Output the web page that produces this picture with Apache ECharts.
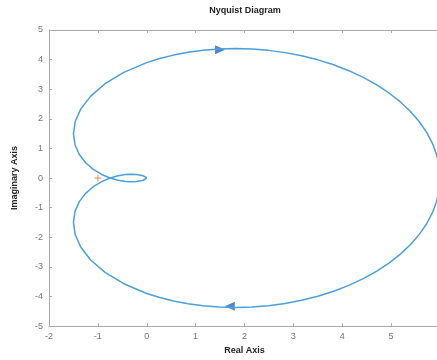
<!DOCTYPE html>
<html>
<head>
<meta charset="utf-8">
<script src="https://cdn.jsdelivr.net/npm/echarts@6/dist/echarts.min.js"></script>
<style>
  html, body { margin: 0; padding: 0; background: #fff; overflow: hidden; }
  /* canvas a bit wider than the window: the x = 6 end of the box is cut off in the original */
  #chart { width: 446px; height: 360px; }
</style>
</head>
<body>
<div id="chart"></div>
<script>
    // positive frequency branch (w = 0 .. inf)
    var realPos = [6, 5.983, 5.932, 5.847, 5.730, 5.581, 5.402, 5.196, 4.963, 4.707, 4.430, 4.134, 3.824,
        3.501, 3.169, 2.830, 2.489, 2.148, 1.811, 1.479, 1.156, 0.844, 0.547, 0.264, 0,
        -0.470, -0.854, -1.147, -1.349, -1.464, -1.5, -1.468, -1.380, -1.251, -1.094, -0.923, -0.75,
        -0.586, -0.437, -0.311, -0.208, -0.074, -0.016, -0.001, 0];
    var imagPos = [0, -0.392, -0.781, -1.163, -1.535, -1.894, -2.238, -2.562, -2.865, -3.145, -3.399, -3.626, -3.824,
        -3.992, -4.129, -4.236, -4.312, -4.357, -4.371, -4.357, -4.315, -4.245, -4.152, -4.035, -3.897,
        -3.569, -3.186, -2.768, -2.336, -1.908, -1.5, -1.126, -0.797, -0.518, -0.293, -0.121, 0,
        0.077, 0.117, 0.129, 0.120, 0.074, 0.027, 0.004, 0];
    // negative frequency branch (mirror image)
    var realNeg = [0, -0.001, -0.016, -0.074, -0.208, -0.311, -0.437, -0.586, -0.75,
        -0.923, -1.094, -1.251, -1.380, -1.468, -1.5, -1.464, -1.349, -1.147, -0.854, -0.470,
        0, 0.264, 0.547, 0.844, 1.156, 1.479, 1.811, 2.148, 2.489, 2.830, 3.169, 3.501,
        3.824, 4.134, 4.430, 4.707, 4.963, 5.196, 5.402, 5.581, 5.730, 5.847, 5.932, 5.983, 6];
    var imagNeg = [0, -0.004, -0.027, -0.074, -0.120, -0.129, -0.117, -0.077, 0,
        0.121, 0.293, 0.518, 0.797, 1.126, 1.5, 1.908, 2.336, 2.768, 3.186, 3.569,
        3.897, 4.035, 4.152, 4.245, 4.315, 4.357, 4.371, 4.357, 4.312, 4.236, 4.129, 3.992,
        3.824, 3.626, 3.399, 3.145, 2.865, 2.562, 2.238, 1.894, 1.535, 1.163, 0.781, 0.392, 0];
    // direction arrows [x, y, rotate]
    var arrows = [[1.5, 4.33, -90], [1.7, -4.33, 90]];
    var criticalPoint = [[-1, 0]];
    var xTicks = [-2, 6];
    var yTicks = [-5, 5];

    function pairs(xs, ys) {
        var out = [];
        for (var i = 0; i < xs.length; i++) {
            out.push([xs[i], ys[i]]);
        }
        return out;
    }

    var chart = echarts.init(document.getElementById('chart'));

    var labelStyle = {color: '#777', fontSize: 9, fontFamily: 'Liberation Sans'};
    var lineStyle = {color: '#aaa', width: 1};

    chart.setOption({
        animation: false,
        title: {
            text: 'Nyquist Diagram',
            left: 240,
            top: 1,
            textAlign: 'center',
            textStyle: {fontSize: 9, fontWeight: 'bold', color: '#222', fontFamily: 'Liberation Sans'}
        },
        grid: {left: 49, right: 6, top: 30, bottom: 33},
        xAxis: [{
            type: 'value',
            min: xTicks[0],
            max: xTicks[1],
            interval: 1,
            name: 'Real Axis',
            nameLocation: 'middle',
            nameGap: 19,
            nameTextStyle: {fontSize: 9, fontWeight: 'bold', color: '#222', fontFamily: 'Liberation Sans'},
            axisLine: {show: true, onZero: false, lineStyle: lineStyle},
            axisTick: {show: true, inside: true, length: 3, lineStyle: lineStyle},
            axisLabel: Object.assign({margin: 6}, labelStyle),
            splitLine: {show: false}
        }, {
            type: 'value',
            position: 'top',
            min: xTicks[0],
            max: xTicks[1],
            interval: 1,
            axisLine: {show: true, onZero: false, lineStyle: lineStyle},
            axisTick: {show: true, inside: true, length: 3, lineStyle: lineStyle},
            axisLabel: {show: false},
            splitLine: {show: false}
        }],
        yAxis: [{
            type: 'value',
            min: yTicks[0],
            max: yTicks[1],
            interval: 1,
            name: 'Imaginary Axis',
            nameLocation: 'middle',
            nameGap: 30,
            nameTextStyle: {fontSize: 9, fontWeight: 'bold', color: '#222', fontFamily: 'Liberation Sans'},
            axisLine: {show: true, onZero: false, lineStyle: lineStyle},
            axisTick: {show: true, inside: true, length: 3, lineStyle: lineStyle},
            axisLabel: Object.assign({margin: 6}, labelStyle),
            splitLine: {show: false}
        }],
        series: [
            {
                type: 'line',
                data: pairs(realPos, imagPos),
                showSymbol: false,
                clip: false,
                lineStyle: {color: '#4d9fda', width: 1.5}
            },
            {
                type: 'line',
                data: pairs(realNeg, imagNeg),
                showSymbol: false,
                clip: false,
                lineStyle: {color: '#4d9fda', width: 1.5}
            },
            {
                type: 'scatter',
                data: arrows.map(function (a) { return {value: [a[0], a[1]], symbolRotate: a[2]}; }),
                symbol: 'triangle',
                symbolSize: [9, 10],
                itemStyle: {color: '#2466c0'}
            },
            {
                type: 'scatter',
                data: criticalPoint,
                symbol: 'path://M0,4 L8,4 M4,0 L4,8',
                symbolSize: 7,
                itemStyle: {color: 'none', borderColor: '#e8703a', borderWidth: 1}
            }
        ]
    });
</script>
</body>
</html>
